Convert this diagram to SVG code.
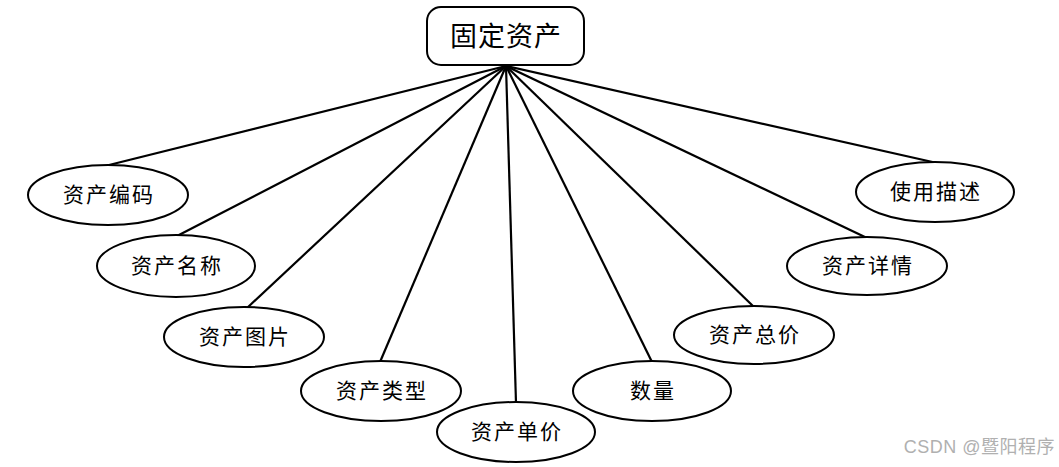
<svg xmlns="http://www.w3.org/2000/svg" width="1059" height="467" viewBox="0 0 1059 467">
<style>
.n{fill:#fff;stroke:#000;stroke-width:2}
.t{font-family:"Liberation Serif","Noto Sans CJK SC",serif;font-size:21px;letter-spacing:2px;text-anchor:middle;dominant-baseline:central;fill:#000}
.c line{stroke:#000;stroke-width:2.2}
</style>
<rect width="1059" height="467" fill="#fff"/>
<g class="c" id="connectors">
<line x1="506" y1="66" x2="109" y2="165"/>
<line x1="506" y1="66" x2="177" y2="236"/>
<line x1="506" y1="66" x2="247" y2="308"/>
<line x1="506" y1="66" x2="380" y2="362"/>
<line x1="506" y1="66" x2="516" y2="403"/>
<line x1="506" y1="66" x2="652" y2="362"/>
<line x1="506" y1="66" x2="754" y2="307"/>
<line x1="506" y1="66" x2="867" y2="238"/>
<line x1="506" y1="66" x2="937" y2="163"/>
</g>
<g id="root">
<rect class="n" x="427" y="7" width="157" height="58" rx="14"/>
<text class="t" x="506" y="37" style="font-size:27px;letter-spacing:1px">固定资产</text>
</g>
<g id="n1"><ellipse class="n" cx="108" cy="195" rx="80" ry="30"/><text class="t" x="109" y="195">资产编码</text></g>
<g id="n2"><ellipse class="n" cx="176" cy="266" rx="79" ry="31"/><text class="t" x="177" y="266">资产名称</text></g>
<g id="n3"><ellipse class="n" cx="244" cy="337" rx="80" ry="30"/><text class="t" x="245" y="337">资产图片</text></g>
<g id="n4"><ellipse class="n" cx="381" cy="391" rx="80" ry="30"/><text class="t" x="382" y="391">资产类型</text></g>
<g id="n5"><ellipse class="n" cx="516" cy="432" rx="79" ry="30"/><text class="t" x="517" y="432">资产单价</text></g>
<g id="n6"><ellipse class="n" cx="652" cy="391" rx="79" ry="30"/><text class="t" x="653" y="391">数量</text></g>
<g id="n7"><ellipse class="n" cx="754" cy="335" rx="80" ry="29"/><text class="t" x="755" y="335">资产总价</text></g>
<g id="n8"><ellipse class="n" cx="867" cy="266" rx="80" ry="29"/><text class="t" x="868" y="266">资产详情</text></g>
<g id="n9"><ellipse class="n" cx="935" cy="192" rx="79" ry="30"/><text class="t" x="936" y="192">使用描述</text></g>
<text x="1055" y="453" style="font-family:'Liberation Sans','Noto Sans CJK SC',sans-serif;font-size:18px;letter-spacing:0.5px;fill:#b0b0b0;text-anchor:end">CSDN @暨阳程序</text>
</svg>
